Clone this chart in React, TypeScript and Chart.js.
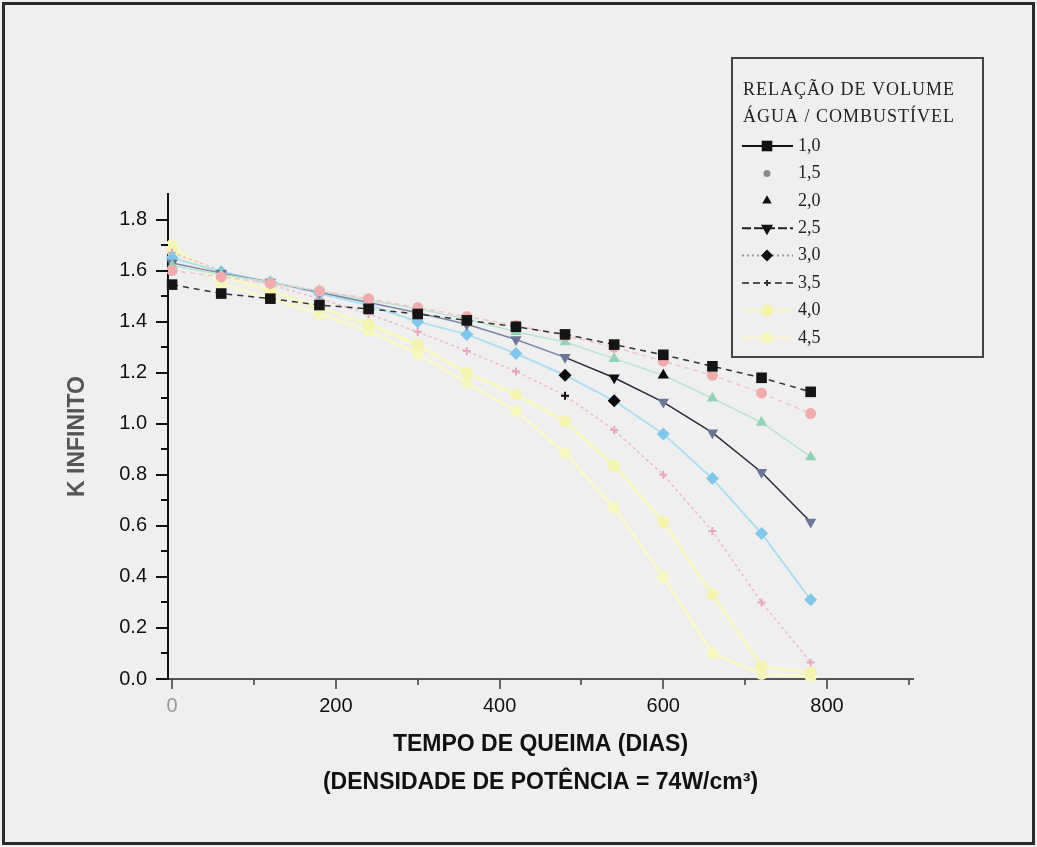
import React, { useEffect, useRef } from 'react';
import { Chart, registerables } from 'chart.js';
import { drawPoint } from 'chart.js/helpers';

Chart.register(...registerables);

// ---------- data ----------
const DAYS = [0, 60, 120, 180, 240, 300, 360, 420, 480, 540, 600, 660, 720, 780];
const RATIO_LABELS = ['1,0', '1,5', '2,0', '2,5', '3,0', '3,5', '4,0', '4,5'];
const K_10 = [1.545, 1.51, 1.49, 1.465, 1.45, 1.43, 1.405, 1.38, 1.35, 1.31, 1.27, 1.225, 1.18, 1.125];
const K_15 = [1.6, 1.575, 1.55, 1.52, 1.49, 1.455, 1.42, 1.385, 1.345, 1.3, 1.245, 1.19, 1.12, 1.04];
const K_20 = [1.62, 1.585, 1.555, 1.52, 1.485, 1.45, 1.41, 1.36, 1.32, 1.255, 1.19, 1.1, 1.005, 0.87];
const K_25 = [1.63, 1.59, 1.555, 1.515, 1.475, 1.435, 1.39, 1.33, 1.26, 1.18, 1.085, 0.965, 0.81, 0.615];
const K_30 = [1.65, 1.595, 1.555, 1.51, 1.465, 1.4, 1.35, 1.275, 1.19, 1.09, 0.96, 0.785, 0.57, 0.31];
const K_35 = [1.67, 1.6, 1.545, 1.49, 1.43, 1.36, 1.285, 1.205, 1.11, 0.975, 0.8, 0.58, 0.3, 0.065];
const K_40 = [1.68, 1.58, 1.52, 1.455, 1.39, 1.31, 1.2, 1.115, 1.01, 0.835, 0.615, 0.33, 0.05, 0.025];
const K_45 = [1.7, 1.55, 1.49, 1.43, 1.365, 1.275, 1.16, 1.05, 0.885, 0.67, 0.4, 0.1, 0.02, 0.01];
const SERIES = [K_10, K_15, K_20, K_25, K_30, K_35, K_40, K_45];

const X_MAJOR_TICKS = [0, 200, 400, 600, 800];
const X_MINOR_TICKS = [100, 300, 500, 700, 900];
const Y_MAJOR_TICKS = [0, 0.2, 0.4, 0.6, 0.8, 1.0, 1.2, 1.4, 1.6, 1.8];
const Y_MINOR_TICKS = [0.1, 0.3, 0.5, 0.7, 0.9, 1.1, 1.3, 1.5, 1.7];

const X_TITLE = ['TEMPO DE QUEIMA (DIAS)', '(DENSIDADE DE POTÊNCIA = 74W/cm³)'];
const Y_TITLE = 'K INFINITO';
const LEGEND_TITLE = ['RELAÇÃO DE VOLUME', 'ÁGUA / COMBUSTÍVEL'];

// ---------- styles ----------
const BG = '#efefef';
const STYLES = [
  { line: '#333333', dash: [6, 5], width: 1.5, point: '#151515', shape: 'rect', r: 7.5, rot: 0, black: [] as number[] },
  { line: '#f3c6c6', dash: [5, 4], width: 1.5, point: '#f0acac', shape: 'circle', r: 5.5, rot: 0, black: [] as number[] },
  { line: '#b9e5d1', dash: [], width: 1.5, point: '#93d3b5', shape: 'triangle', r: 6.5, rot: 0, black: [10] },
  { line: '#7a84a8', dash: [], width: 1.5, point: '#6b7698', shape: 'triangle', r: 6.5, rot: 180, black: [9] },
  { line: '#addff2', dash: [], width: 2, point: '#82c7ea', shape: 'rectRot', r: 6.5, rot: 0, black: [8, 9] },
  { line: '#efb9cc', dash: [3, 3], width: 1.5, point: '#e6a6be', shape: 'cross', r: 4, rot: 0, black: [8] },
  { line: '#f7f7c0', dash: [], width: 3, point: '#f4f4b0', shape: 'circle', r: 6, rot: 0, black: [] as number[] },
  { line: '#f9f9cc', dash: [], width: 3, point: '#f6f6c0', shape: 'circle', r: 6, rot: 0, black: [] as number[] },
];
const LEGEND_MARKS = [
  { line: '#111111', dash: [] as number[], point: '#111111', shape: 'rect', r: 7.5, rot: 0 },
  { line: 'rgba(0,0,0,0)', dash: [] as number[], point: '#8a8a8a', shape: 'circle', r: 3.5, rot: 0 },
  { line: 'rgba(0,0,0,0)', dash: [] as number[], point: '#111111', shape: 'triangle', r: 5.5, rot: 0 },
  { line: '#222222', dash: [9, 3], point: '#111111', shape: 'triangle', r: 7, rot: 180 },
  { line: '#999999', dash: [2, 3], point: '#111111', shape: 'rectRot', r: 6, rot: 0 },
  { line: '#555555', dash: [7, 4], point: '#333333', shape: 'cross', r: 3, rot: 0 },
  { line: '#f7f7c0', dash: [] as number[], point: '#f3f3ac', shape: 'circle', r: 6, rot: 0 },
  { line: '#f9f9cc', dash: [] as number[], point: '#f5f5bc', shape: 'circle', r: 6, rot: 0 },
];

const decorPlugin = {
  id: 'decor',
  beforeDraw(chart: any) {
    const { ctx, width, height } = chart;
    ctx.save();
    ctx.fillStyle = BG;
    ctx.fillRect(0, 0, width, height);
    ctx.strokeStyle = '#2a2a2a';
    ctx.lineWidth = 3;
    ctx.strokeRect(3.5, 3.5, width - 7, height - 7);
    ctx.restore();
  },
  afterDraw(chart: any) {
    const { ctx, chartArea } = chart;
    const xs = chart.scales.x;
    const ys = chart.scales.y;
    ctx.save();
    // y ticks
    ctx.strokeStyle = '#111';
    ctx.lineWidth = 2;
    const yTick = (v: number, len: number) => {
      const p = Math.round(ys.getPixelForValue(v));
      ctx.beginPath();
      ctx.moveTo(chartArea.left, p);
      ctx.lineTo(chartArea.left - len, p);
      ctx.stroke();
    };
    Y_MAJOR_TICKS.forEach((v) => yTick(v, 12));
    Y_MINOR_TICKS.forEach((v) => yTick(v, 7));
    // x ticks
    ctx.strokeStyle = '#444';
    ctx.lineWidth = 1.6;
    const xTick = (v: number, len: number) => {
      const p = Math.round(xs.getPixelForValue(v));
      ctx.beginPath();
      ctx.moveTo(p, chartArea.bottom);
      ctx.lineTo(p, chartArea.bottom + len);
      ctx.stroke();
    };
    X_MAJOR_TICKS.forEach((v) => xTick(v, 10));
    X_MINOR_TICKS.forEach((v) => xTick(v, 6));

    // legend box
    const L = 732, T = 58, W = 251, H = 299;
    ctx.fillStyle = BG;
    ctx.fillRect(L, T, W, H);
    ctx.strokeStyle = '#444';
    ctx.lineWidth = 2;
    ctx.strokeRect(L, T, W, H);
    ctx.fillStyle = '#222';
    ctx.textBaseline = 'middle';
    ctx.textAlign = 'left';
    ctx.font = '18px "Liberation Serif", "DejaVu Serif", serif';
    (ctx as any).letterSpacing = '1px';
    LEGEND_TITLE.forEach((t, i) => ctx.fillText(t, L + 11, T + 32 + i * 27.5));
    (ctx as any).letterSpacing = '0px';
    RATIO_LABELS.forEach((lab, i) => {
      const y = T + 88 + i * 27.4;
      const m = LEGEND_MARKS[i];
      ctx.save();
      ctx.strokeStyle = m.line;
      ctx.lineWidth = 2;
      ctx.setLineDash(m.dash);
      ctx.beginPath();
      ctx.moveTo(L + 10, y);
      ctx.lineTo(L + 61, y);
      ctx.stroke();
      ctx.restore();
      ctx.fillStyle = m.point;
      ctx.strokeStyle = m.point;
      drawPoint(ctx, { pointStyle: m.shape as any, radius: m.r, rotation: m.rot, borderWidth: m.shape === 'cross' ? 2 : 0 } as any, L + 35, y);
      ctx.fillStyle = '#222';
      ctx.font = '18px "Liberation Serif", "DejaVu Serif", serif';
      ctx.fillText(lab, L + 66, y);
    });
    ctx.restore();
  },
};

export default function App() {
  const ref = useRef<HTMLCanvasElement | null>(null);

  useEffect(() => {
    document.body.style.margin = '0';
    document.body.style.background = BG;
    const canvas = ref.current!;
    const datasets = SERIES.map((vals, i) => {
      const s = STYLES[i];
      return {
        label: RATIO_LABELS[i],
        data: DAYS.map((d, j) => ({ x: d, y: vals[j] })),
        borderColor: s.line,
        borderWidth: s.width,
        borderDash: s.dash,
        pointStyle: s.shape,
        pointRadius: s.r,
        pointRotation: s.rot,
        pointBackgroundColor: (c: any) => (s.black.includes(c.dataIndex) ? '#0a0a0a' : s.point),
        pointBorderColor: (c: any) => (s.black.includes(c.dataIndex) ? '#0a0a0a' : s.point),
        pointBorderWidth: s.shape === 'cross' ? 2 : 0,
        segment: i === 3 ? { borderColor: (c: any) => (c.p0DataIndex >= 8 ? '#2a2d38' : undefined) } : undefined,
        tension: 0,
        clip: false,
        fill: false,
      };
    });

    const chart = new Chart(canvas, {
      type: 'line',
      data: { datasets: datasets as any },
      options: {
        animation: false,
        responsive: false,
        devicePixelRatio: 1,
        layout: { padding: { left: 0, top: 194, right: 124, bottom: 0 } },
        plugins: { legend: { display: false }, tooltip: { enabled: false } },
        scales: {
          x: {
            type: 'linear',
            min: -5,
            max: 905,
            afterFit: (s: any) => { s.height = 168; },
            afterBuildTicks: (s: any) => { s.ticks = X_MAJOR_TICKS.map((v) => ({ value: v })); },
            grid: { display: false, drawTicks: false },
            border: { display: true, color: '#555', width: 2 },
            ticks: {
              padding: 15,
              font: { family: '"Liberation Sans", Arial, sans-serif', size: 20 },
              color: (c: any) => (c.tick && c.tick.value === 0 ? '#9a9a9a' : '#111'),
              maxRotation: 0,
              autoSkip: false,
              callback: (v: any) => String(v),
            },
            title: {
              display: true,
              text: X_TITLE,
              color: '#111',
              font: { family: '"Liberation Sans", Arial, sans-serif', size: 23, weight: 'bold', lineHeight: 1.652 },
              padding: { top: 0, bottom: 45 },
            },
          },
          y: {
            type: 'linear',
            min: 0,
            max: 1.9,
            afterFit: (s: any) => { s.width = 168; },
            afterBuildTicks: (s: any) => { s.ticks = Y_MAJOR_TICKS.map((v) => ({ value: v })); },
            grid: { display: false, drawTicks: false },
            border: { display: true, color: '#111', width: 2 },
            ticks: {
              padding: 21,
              font: { family: '"Liberation Sans", Arial, sans-serif', size: 20 },
              color: '#111',
              autoSkip: false,
              callback: (v: any) => Number(v).toFixed(1),
            },
            title: {
              display: true,
              text: Y_TITLE,
              color: '#555',
              font: { family: '"Liberation Sans", Arial, sans-serif', size: 23, weight: 'bold' },
              padding: { top: 64, bottom: 0 },
            },
          },
        },
      },
      plugins: [decorPlugin],
    });
    return () => chart.destroy();
  }, []);

  return (
    <div style={{ width: 1037, height: 847 }}>
      <canvas ref={ref} width={1037} height={847} style={{ display: 'block', width: 1037, height: 847 }} />
    </div>
  );
}
